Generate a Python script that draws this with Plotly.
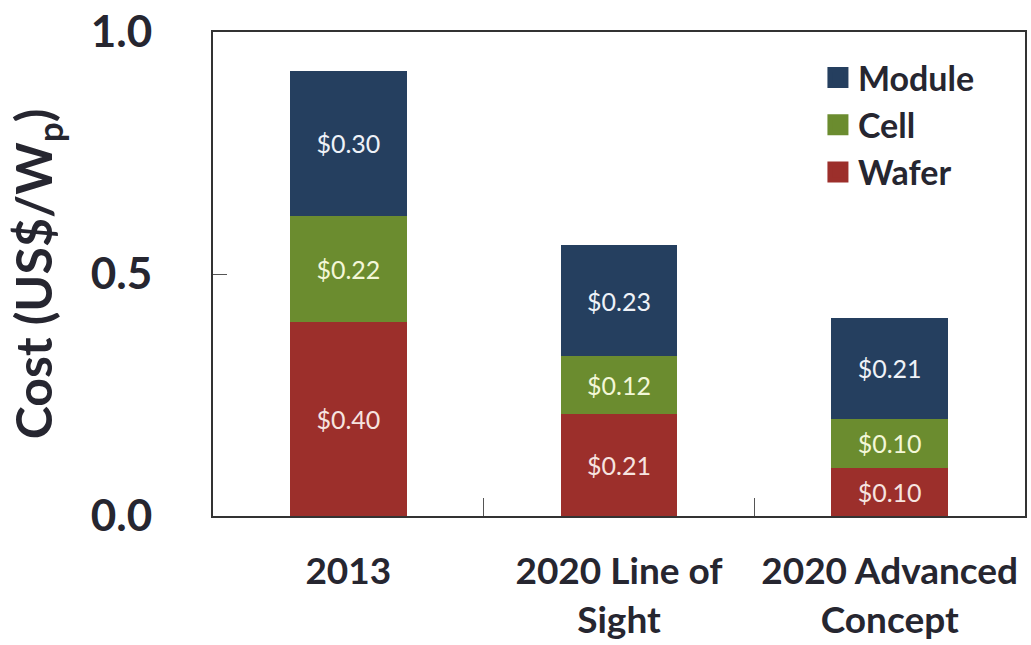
import plotly.graph_objects as go

categories = ["2013", "2020 Line of<br>Sight", "2020 Advanced<br>Concept"]
wafer = [0.40, 0.21, 0.10]
cell = [0.22, 0.12, 0.10]
module = [0.30, 0.23, 0.21]

series = [("Wafer", wafer, "#9c2f2b", "#f6e4e0"),
          ("Cell", cell, "#6b8c2f", "#f3f7d8"),
          ("Module", module, "#253f5f", "#eef2f8")]

FONT = "Lato"
DARK = "#262630"

fig = go.Figure()
for name, vals, col, tcol in series:
    fig.add_trace(go.Bar(
        x=categories, y=vals, name=name, marker_color=col,
        marker_line_width=0, width=0.43,
        texttemplate="$%{y:.2f}", textposition="inside",
        insidetextanchor="middle",
        textfont=dict(family=FONT, size=25, color=tcol),
        showlegend=False, hoverinfo="skip",
    ))
# legend entries (larger square swatches)
for name, vals, col, tcol in series:
    fig.add_trace(go.Scatter(
        x=[None], y=[None], mode="markers", name=name,
        marker=dict(symbol="square", size=16, color=col,
                    line=dict(color=col, width=5)),
        showlegend=True,
    ))

fig.update_layout(
    width=1031, height=645,
    barmode="stack",
    paper_bgcolor="white", plot_bgcolor="white",
    margin=dict(l=213, r=4, t=26, b=124),
    font=dict(family=FONT, color=DARK),
    legend=dict(
        x=0.745, y=0.965, xanchor="left", yanchor="top",
        traceorder="reversed",
        font=dict(family=FONT, size=34, color=DARK, weight="bold"),
        bgcolor="rgba(0,0,0,0)", tracegroupgap=0,
        itemwidth=30,
    ),
)
fig.update_xaxes(
    type="category", range=[-0.5, 2.5],
    showline=True, linecolor="#333333", linewidth=2, mirror=True,
    ticks="inside", tickson="boundaries", ticklen=18, tickcolor="#555555",
    tickfont=dict(family=FONT, size=37, color=DARK, weight="bold"),
    ticklabelstandoff=22,
    showgrid=False, zeroline=False,
)
fig.update_yaxes(
    range=[0, 1.0], tickvals=[0, 0.5, 1.0], ticktext=["0.0", "0.5", "1.0"],
    showline=True, linecolor="#333333", linewidth=2, mirror=True,
    ticks="inside", ticklen=14, tickcolor="#555555",
    tickfont=dict(family=FONT, size=44, color=DARK, weight="bold"),
    ticklabelstandoff=50, ticklabeloverflow="allow",
    showgrid=False, zeroline=False,
    title=dict(text="Cost (US$/W<sub>p</sub>)", standoff=22,
               font=dict(family=FONT, size=50, color=DARK, weight="bold")),
)

fig.write_html("out.html")
